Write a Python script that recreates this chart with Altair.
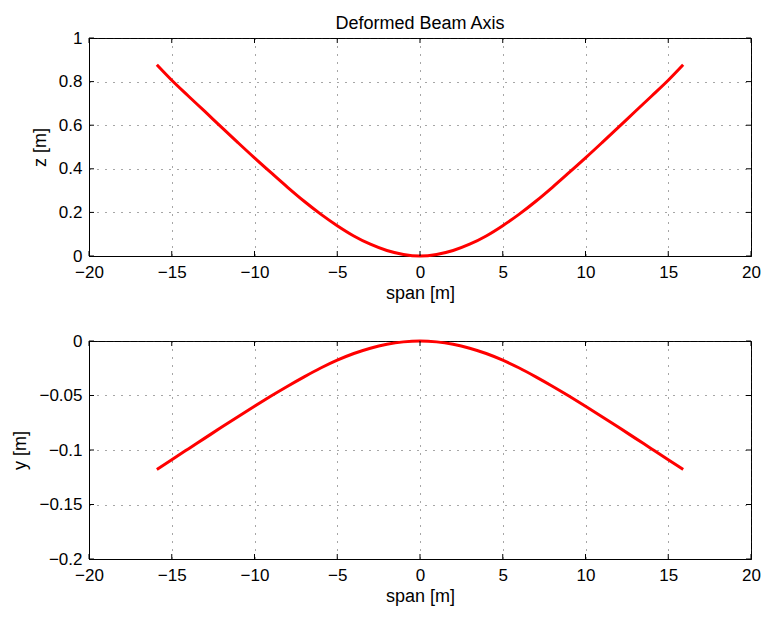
import altair as alt
import pandas as pd

# ---- data ----
span = [-15.9, -15, -14, -13, -12, -11, -10, -9, -8, -7, -6, -5, -4, -3, -2, -1, 0,
        1, 2, 3, 4, 5, 6, 7, 8, 9, 10, 11, 12, 13, 14, 15, 15.9]
z_def = [0.877, 0.806, 0.734, 0.663, 0.591, 0.52, 0.45, 0.382, 0.315, 0.251, 0.192,
         0.139, 0.092, 0.054, 0.025, 0.007, 0.0,
         0.007, 0.025, 0.054, 0.092, 0.139, 0.192, 0.251, 0.315, 0.382, 0.45,
         0.52, 0.591, 0.663, 0.734, 0.806, 0.877]
y_def = [-0.1178, -0.1089, -0.099, -0.0891, -0.0792, -0.0694, -0.0598, -0.0505,
         -0.0415, -0.0329, -0.0248, -0.0176, -0.0115, -0.0066, -0.003, -0.0008, 0.0,
         -0.0008, -0.003, -0.0066, -0.0115, -0.0176, -0.0248, -0.0329, -0.0415,
         -0.0505, -0.0598, -0.0694, -0.0792, -0.0891, -0.099, -0.1089, -0.1178]

x_ticks = [-20, -15, -10, -5, 0, 5, 10, 15, 20]
z_ticks = [0, 0.2, 0.4, 0.6, 0.8, 1]
y_ticks = [-0.2, -0.15, -0.1, -0.05, 0]
x_domain = [-20, 20]
z_domain = [0, 1]
y_domain = [-0.2, 0]

FONT = "Liberation Sans"
FS = 17
TFS = 18
W, H = 662, 218
TICK = 5


def panel(values, ylabel, yticks, ydomain, title=None):
    xscale = alt.Scale(domain=x_domain, nice=False, zero=False)
    yscale = alt.Scale(domain=ydomain, nice=False, zero=False)
    xaxis = alt.Axis(values=x_ticks, format="d", title="span [m]", labelFlush=False,
                     labelOverlap=False, labelBound=False, ticks=False, tickSize=0,
                     labelPadding=8, titlePadding=4)
    yaxis = alt.Axis(values=yticks, format=".2~f", title=ylabel, labelFlush=False,
                     labelOverlap=False, labelBound=False, ticks=False, tickSize=0,
                     labelPadding=7, titlePadding=9)
    df = pd.DataFrame({"span": span, "v": values})
    line = alt.Chart(df).mark_line(color="#ff0000", strokeWidth=3,
                                   interpolate="monotone").encode(
        x=alt.X("span:Q", scale=xscale, axis=xaxis),
        y=alt.Y("v:Q", scale=yscale, axis=yaxis),
    )
    xt_lo = pd.DataFrame({"t": x_ticks, "e": [ydomain[0]] * len(x_ticks)})
    xt_hi = pd.DataFrame({"t": x_ticks, "e": [ydomain[1]] * len(x_ticks)})
    yt_lo = pd.DataFrame({"t": yticks, "e": [x_domain[0]] * len(yticks)})
    yt_hi = pd.DataFrame({"t": yticks, "e": [x_domain[1]] * len(yticks)})

    def vt(d, off):
        return alt.Chart(d).mark_tick(orient="vertical", size=TICK, thickness=1,
                                      color="black", opacity=1, yOffset=off).encode(
            x=alt.X("t:Q", scale=xscale, axis=xaxis),
            y=alt.Y("e:Q", scale=yscale, axis=yaxis))

    def ht(d, off):
        return alt.Chart(d).mark_tick(orient="horizontal", size=TICK, thickness=1,
                                      color="black", opacity=1, xOffset=off).encode(
            x=alt.X("e:Q", scale=xscale, axis=xaxis),
            y=alt.Y("t:Q", scale=yscale, axis=yaxis))

    layers = [line, vt(xt_lo, -TICK / 2), vt(xt_hi, TICK / 2),
              ht(yt_lo, TICK / 2), ht(yt_hi, -TICK / 2)]
    ch = alt.layer(*layers).properties(width=W, height=H)
    if title:
        ch = ch.properties(title=alt.TitleParams(
            title, fontSize=TFS, fontWeight="normal", font=FONT, color="black",
            anchor="middle", frame="group", offset=-4))
    return ch


top = panel(z_def, "z [m]", z_ticks, z_domain, title="Deformed Beam Axis")
bottom = panel(y_def, "y [m]", y_ticks, y_domain)

chart = alt.vconcat(top, bottom, spacing=85, bounds="flush").properties(
    padding={"left": 3, "top": 6, "right": 0, "bottom": 0}
).configure(font=FONT, background="white").configure_view(
    stroke="black", strokeWidth=1
).configure_axis(
    domainColor="black", domainWidth=1,
    grid=True, gridColor="#222222", gridDash=[1, 7], gridWidth=1, gridOpacity=0.8,
    labelFont=FONT, labelFontSize=FS, labelColor="black",
    titleFont=FONT, titleFontSize=TFS, titleFontWeight="normal", titleColor="black",
)

chart.save("out.html", embed_options={"renderer": "svg", "actions": False})
